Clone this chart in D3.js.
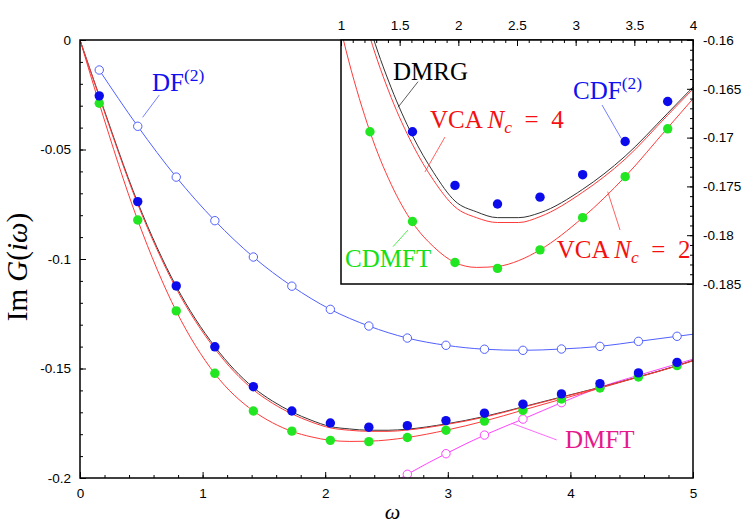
<!DOCTYPE html>
<html lang="en">
<head>
    <meta charset="UTF-8">
    <title>Im G(iw)</title>
    <style>
        body { margin: 0; background: #fff; }
    </style>
</head>
<body>
    <div class="container"></div>
    <script src="https://cdn.jsdelivr.net/npm/d3@7/dist/d3.min.js"></script>
    <script>
        // Matsubara frequencies (beta = 20)
        const omega = [0.157, 0.471, 0.785, 1.100, 1.414, 1.728, 2.042, 2.356, 2.670, 2.985, 3.299, 3.613, 3.927, 4.241, 4.555, 4.870]
        const cdf2 = [-0.0255, -0.0738, -0.1123, -0.1401, -0.1583, -0.1694, -0.1749, -0.1768, -0.1761, -0.1738, -0.1704, -0.1663, -0.1616, -0.1569, -0.1520, -0.1472]
        const cdmft = [-0.0289, -0.0822, -0.1237, -0.1522, -0.1694, -0.1786, -0.1828, -0.1834, -0.1815, -0.1782, -0.1740, -0.1691, -0.1639, -0.1589, -0.1539, -0.1487]

        // DF(2) and DMFT run past the frame, they get clipped
        const df2Omega = [0.157, 0.471, 0.785, 1.100, 1.414, 1.728, 2.042, 2.356, 2.670, 2.985, 3.299, 3.613, 3.927, 4.241, 4.555, 4.870, 5.184]
        const df2 = [-0.0137, -0.0394, -0.0626, -0.0825, -0.0991, -0.1124, -0.1230, -0.1306, -0.1361, -0.1394, -0.1412, -0.1417, -0.1411, -0.1399, -0.1376, -0.1353, -0.1330]
        const dmftOmega = [2.356, 2.670, 2.985, 3.299, 3.613, 3.927, 4.241, 4.555, 4.870, 5.184]
        const dmft = [-0.2090, -0.1983, -0.1889, -0.1804, -0.1731, -0.1656, -0.1586, -0.1531, -0.1479, -0.1427]

        // continuous curves
        const curveOmega = [0, 0.157, 0.471, 0.785, 1.100, 1.414, 1.571, 1.728, 1.885, 2.042, 2.200, 2.356, 2.513, 2.670, 2.985, 3.299, 3.613, 3.927, 4.241, 4.555, 4.870, 5.000]
        const dmrg = [0, -0.0255, -0.0742, -0.1125, -0.1400, -0.1587, -0.1649, -0.1698, -0.1736, -0.1765, -0.1776, -0.1782, -0.1782, -0.1777, -0.1753, -0.1719, -0.1675, -0.1630, -0.1586, -0.1538, -0.1487, -0.1463]
        const vca4 = [0, -0.0259, -0.0750, -0.1135, -0.1410, -0.1597, -0.1659, -0.1707, -0.1744, -0.1771, -0.1782, -0.1787, -0.1787, -0.1781, -0.1756, -0.1722, -0.1677, -0.1632, -0.1587, -0.1539, -0.1488, -0.1464]
        const vca2 = [0, -0.0290, -0.0823, -0.1238, -0.1524, -0.1694, -0.1748, -0.1787, -0.1812, -0.1828, -0.1833, -0.1832, -0.1826, -0.1815, -0.1782, -0.1740, -0.1690, -0.1640, -0.1590, -0.1539, -0.1488, -0.1465]

        // tick labels
        const xTicks = [0, 1, 2, 3, 4, 5]
        const xTickLabels = ['0', '1', '2', '3', '4', '5']
        const yTicks = [0, -0.05, -0.1, -0.15, -0.2]
        const yTickLabels = ['0', '-0.05', '-0.1', '-0.15', '-0.2']
        const insetXTicks = [1, 1.5, 2, 2.5, 3, 3.5, 4]
        const insetXTickLabels = ['1', '1.5', '2', '2.5', '3', '3.5', '4']
        const insetYTicks = [-0.16, -0.165, -0.17, -0.175, -0.18, -0.185]
        const insetYTickLabels = ['-0.16', '-0.165', '-0.17', '-0.175', '-0.18', '-0.185']

        // Setup config
        const width = 753
        const height = 528
        const plot = {left: 80, top: 40, right: 693, bottom: 478}
        const inset = {left: 341, top: 40, right: 693, bottom: 284}
        const sansFont = '"Liberation Sans", Arial, sans-serif'
        const serifFont = '"Liberation Serif", "DejaVu Serif", serif'

        const col = {
            blue: '#0b0bec', green: '#22e622', dfLine: '#5060ff', red: '#ff3a3a',
            black: '#333', dmftLine: '#ff44ff', dmftText: '#e6198c',
            redText: '#f41010', greenText: '#14e014', blueText: '#1010f0'
        }

        const svg = d3.select('.container')
                    .append('svg')
                    .attr('width', width)
                    .attr('height', height)
                    .style('background', '#fff')

        const defs = svg.append('defs')
        defs.append('clipPath').attr('id', 'clipMain')
            .append('rect')
            .attr('x', plot.left).attr('y', plot.top)
            .attr('width', plot.right - plot.left).attr('height', plot.bottom - plot.top)
        defs.append('clipPath').attr('id', 'clipInset')
            .append('rect')
            .attr('x', inset.left).attr('y', inset.top)
            .attr('width', inset.right - inset.left).attr('height', inset.bottom - inset.top)

        // Scales
        const xMain = d3.scaleLinear().domain([0, 5]).range([plot.left, plot.right])
        const yMain = d3.scaleLinear().domain([-0.2, 0]).range([plot.bottom, plot.top])
        // the inset's printed axis (1..4) does not line up with the omega of its points,
        // so the labels get their own scale and the data another one
        const xInsetAxis = d3.scaleLinear().domain([1, 4]).range([inset.left, inset.right])
        const xInset = d3.scaleLinear().domain([1.2, 3.8]).range([inset.left, inset.right])
        const yInset = d3.scaleLinear().domain([-0.185, -0.16]).range([inset.bottom, inset.top])

        const pairs = (xs, ys) => xs.map((x, i) => [x, ys[i]])

        function drawPanel(g, x, y, clipId, withSingleSite) {
            const lines = g.append('g').attr('clip-path', `url(#${clipId})`)
            const line = d3.line().x(d => x(d[0])).y(d => y(d[1])).curve(d3.curveMonotoneX)

            let series = [
                {data: pairs(curveOmega, vca2), color: col.red},
                {data: pairs(curveOmega, dmrg), color: col.black},
                {data: pairs(curveOmega, vca4), color: col.red}
            ]
            let open = []
            if (withSingleSite) {
                series = [
                    {data: pairs(df2Omega, df2), color: col.dfLine},
                    {data: pairs(dmftOmega, dmft), color: col.dmftLine}
                ].concat(series)
                open = [
                    {data: pairs(df2Omega, df2), color: col.dfLine},
                    {data: pairs(dmftOmega, dmft), color: col.dmftLine}
                ]
            }
            lines.selectAll('path.series')
                .data(series)
                .join('path')
                .attr('class', 'series')
                .attr('d', d => line(d.data))
                .attr('fill', 'none')
                .attr('stroke', d => d.color)
                .attr('stroke-width', 1)

            // open circles
            open.forEach(s => {
                lines.append('g').selectAll('circle')
                    .data(s.data)
                    .join('circle')
                    .attr('cx', d => x(d[0]))
                    .attr('cy', d => y(d[1]))
                    .attr('r', 4.2)
                    .attr('fill', '#fff')
                    .attr('stroke', s.color)
                    .attr('stroke-width', 1)
            })

            // filled circles
            const filled = [
                {data: pairs(omega, cdmft), color: col.green},
                {data: pairs(omega, cdf2), color: col.blue}
            ]
            filled.forEach(s => {
                lines.append('g').selectAll('circle')
                    .data(s.data)
                    .join('circle')
                    .attr('cx', d => x(d[0]))
                    .attr('cy', d => y(d[1]))
                    .attr('r', 4.7)
                    .attr('fill', s.color)
            })
        }

        function styleAxis(g) {
            g.select('.domain').remove()
            g.selectAll('.tick line').attr('stroke', '#000').attr('stroke-width', 1)
            g.selectAll('.tick text')
                .attr('fill', '#000')
                .style('font-family', sansFont)
                .style('font-size', '13.5px')
        }

        // rich label: parts = [{t, it, sup, sub}]
        function label(g, x, y, parts, color, size) {
            const text = g.append('text')
                        .attr('x', x).attr('y', y)
                        .attr('fill', color)
                        .style('font-family', serifFont)
                        .style('font-size', size + 'px')
            let shift = 0
            parts.forEach(p => {
                const ts = text.append('tspan').text(p.t)
                let target = 0
                if (p.sup) target = -size * 0.42
                if (p.sub) target = size * 0.2
                ts.attr('dy', target - shift)
                shift = target
                if (p.it) ts.style('font-style', 'italic')
                if (p.sup || p.sub) ts.style('font-size', (size * 0.7) + 'px')
            })
            return text
        }

        function pointer(g, x, y, p, color) {
            g.append('line')
                .attr('x1', x(p[0])).attr('y1', y(p[1]))
                .attr('x2', x(p[2])).attr('y2', y(p[3]))
                .attr('stroke', color)
                .attr('stroke-width', 0.8)
        }

        // ---------- main panel ----------
        const main = svg.append('g').attr('class', 'main')
        drawPanel(main, xMain, yMain, 'clipMain', true)

        const mainAxes = main.append('g').attr('class', 'axes')
        mainAxes.append('g')
            .attr('transform', `translate(0,${plot.bottom})`)
            .call(d3.axisBottom(xMain).tickValues(d3.range(0, 5.001, 0.2)).tickSize(-3).tickFormat(''))
            .call(styleAxis)
        mainAxes.append('g')
            .attr('transform', `translate(0,${plot.bottom})`)
            .call(d3.axisBottom(xMain).tickValues(xTicks).tickFormat((d, i) => xTickLabels[i]).tickSize(-6).tickPadding(10))
            .call(styleAxis)
        mainAxes.append('g')
            .attr('transform', `translate(${plot.left},0)`)
            .call(d3.axisLeft(yMain).tickValues(d3.range(-0.2, 0.0001, 0.01)).tickSize(-3).tickFormat(''))
            .call(styleAxis)
        mainAxes.append('g')
            .attr('transform', `translate(${plot.left},0)`)
            .call(d3.axisLeft(yMain).tickValues(yTicks).tickFormat((d, i) => yTickLabels[i]).tickSize(-6).tickPadding(9))
            .call(styleAxis)

        main.append('rect')
            .attr('x', plot.left).attr('y', plot.top)
            .attr('width', plot.right - plot.left).attr('height', plot.bottom - plot.top)
            .attr('fill', 'none').attr('stroke', '#000').attr('stroke-width', 1.5)

        // main annotations
        label(main, xMain(0.587), yMain(-0.0235), [{t: 'DF'}, {t: '(2)', sup: true}], col.blueText, 25)
        pointer(main, xMain, yMain, [0.647, -0.0251, 0.511, -0.0353], col.dfLine)
        label(main, xMain(3.956), yMain(-0.1864), [{t: 'DMFT'}], col.dmftText, 25)
        pointer(main, xMain, yMain, [3.888, -0.1826, 3.521, -0.1750], col.dmftLine)

        // axis titles
        label(svg, 0, 0, [{t: 'Im '}, {t: 'G', it: true}, {t: '('}, {t: 'iω', it: true}, {t: ')'}], '#000', 29)
            .attr('text-anchor', 'middle')
            .attr('transform', `translate(27,${(plot.top + plot.bottom) / 2 + 8}) rotate(-90)`)
        label(svg, xMain(2.55), 519, [{t: 'ω', it: true}], '#000', 22)
            .attr('text-anchor', 'middle')

        // ---------- inset ----------
        const ins = svg.append('g').attr('class', 'inset')
        ins.append('rect')
            .attr('x', inset.left).attr('y', inset.top)
            .attr('width', inset.right - inset.left).attr('height', inset.bottom - inset.top)
            .attr('fill', '#fff')
        drawPanel(ins, xInset, yInset, 'clipInset', false)

        ins.append('g')
            .attr('transform', `translate(0,${inset.top})`)
            .call(d3.axisTop(xInsetAxis).tickValues(d3.range(1, 4.001, 0.1)).tickSize(-3).tickFormat(''))
            .call(styleAxis)
        ins.append('g')
            .attr('transform', `translate(0,${inset.top})`)
            .call(d3.axisTop(xInsetAxis).tickValues(insetXTicks).tickFormat((d, i) => insetXTickLabels[i]).tickSize(-6).tickPadding(10))
            .call(styleAxis)
        ins.append('g')
            .attr('transform', `translate(${inset.right},0)`)
            .call(d3.axisRight(yInset).tickValues(d3.range(-0.185, -0.15999, 0.001)).tickSize(-3).tickFormat(''))
            .call(styleAxis)
        ins.append('g')
            .attr('transform', `translate(${inset.right},0)`)
            .call(d3.axisRight(yInset).tickValues(insetYTicks).tickFormat((d, i) => insetYTickLabels[i]).tickSize(-6).tickPadding(10))
            .call(styleAxis)

        ins.append('rect')
            .attr('x', inset.left).attr('y', inset.top)
            .attr('width', inset.right - inset.left).attr('height', inset.bottom - inset.top)
            .attr('fill', 'none').attr('stroke', '#000').attr('stroke-width', 1.5)

        // inset annotations
        label(ins, xInset(1.584), yInset(-0.1641), [{t: 'DMRG'}], '#000', 25)
        pointer(ins, xInset, yInset, [1.769, -0.16427, 1.621, -0.1669], col.black)
        label(ins, xInset(1.857), yInset(-0.1690), [{t: 'VCA '}, {t: 'N', it: true}, {t: 'c', it: true, sub: true}, {t: '\u2002=\u20024'}], col.redText, 25)
        pointer(ins, xInset, yInset, [1.968, -0.16994, 1.820, -0.17352], col.red)
        label(ins, xInset(2.914), yInset(-0.16608), [{t: 'CDF'}, {t: '(2)', sup: true}], col.blueText, 25)
        pointer(ins, xInset, yInset, [3.128, -0.16666, 3.268, -0.17004], col.dfLine)
        label(ins, xInset(1.23), yInset(-0.18323), [{t: 'CDMFT'}], col.greenText, 25)
        pointer(ins, xInset, yInset, [1.584, -0.18118, 1.695, -0.17947], col.green)
        label(ins, xInset(2.793), yInset(-0.18237), [{t: 'VCA '}, {t: 'N', it: true}, {t: 'c', it: true, sub: true}, {t: '\u2002=\u20022'}], col.redText, 25)
        pointer(ins, xInset, yInset, [3.261, -0.17947, 3.170, -0.17554], col.red)
    </script>
</body>
</html>
